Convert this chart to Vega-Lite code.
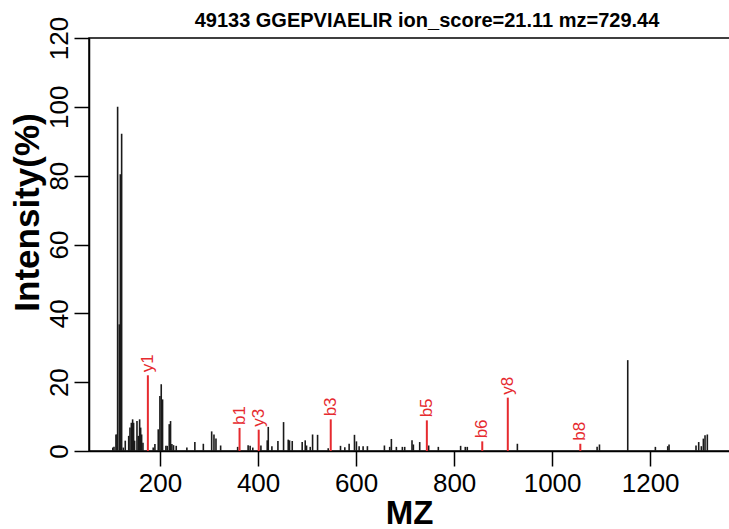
{
  "$schema": "https://vega.github.io/schema/vega-lite/v6.json",
  "autosize": "none",
  "padding": {"left": 89, "top": 38, "right": 0, "bottom": 78},
  "width": 642,
  "height": 413,
  "background": "white",
  "title": {
    "text": "49133 GGEPVIAELIR ion_score=21.11 mz=729.44",
    "font": "Liberation Sans",
    "fontSize": 20,
    "fontWeight": "bold",
    "color": "black",
    "anchor": "middle",
    "frame": "group",
    "dx": 17,
    "offset": -15
  },
  "config": {
    "view": {"stroke": "black", "strokeWidth": 1.5},
    "axis": {
      "labelFont": "Liberation Sans",
      "titleFont": "Liberation Sans",
      "labelColor": "black",
      "titleColor": "black",
      "domainColor": "black",
      "tickColor": "black",
      "domainWidth": 1.5,
      "tickWidth": 1.5,
      "tickSize": 15,
      "grid": false,
      "labelFontSize": 26,
      "titleFontSize": 33,
      "titleFontWeight": "bold"
    }
  },
  "datasets": {
    "peaks": [
      {"mz": 103.5, "intensity": 1.0}, {"mz": 106, "intensity": 1.2}, {"mz": 110, "intensity": 4.8},
      {"mz": 112, "intensity": 4.8}, {"mz": 113.4, "intensity": 100}, {"mz": 116.8, "intensity": 36.8},
      {"mz": 118.9, "intensity": 80.4}, {"mz": 121.6, "intensity": 92.2}, {"mz": 125, "intensity": 1},
      {"mz": 129, "intensity": 3}, {"mz": 136, "intensity": 4.4}, {"mz": 138.6, "intensity": 6.8},
      {"mz": 141.4, "intensity": 8.2}, {"mz": 144, "intensity": 9.2}, {"mz": 146, "intensity": 8.2},
      {"mz": 148, "intensity": 3}, {"mz": 152.9, "intensity": 8.7}, {"mz": 155.6, "intensity": 4.4},
      {"mz": 158.3, "intensity": 9.2}, {"mz": 160.4, "intensity": 6.8}, {"mz": 162.4, "intensity": 4.8},
      {"mz": 165.1, "intensity": 2.4}, {"mz": 186, "intensity": 1}, {"mz": 189.5, "intensity": 2},
      {"mz": 196.3, "intensity": 6.3}, {"mz": 199.7, "intensity": 16}, {"mz": 202.4, "intensity": 19.4},
      {"mz": 205.1, "intensity": 15}, {"mz": 211.9, "intensity": 1.5}, {"mz": 214.6, "intensity": 1.5},
      {"mz": 218.7, "intensity": 7.8}, {"mz": 221.4, "intensity": 8.7}, {"mz": 224.1, "intensity": 2},
      {"mz": 227.5, "intensity": 1.7}, {"mz": 233, "intensity": 1.5}, {"mz": 254.7, "intensity": 1},
      {"mz": 271, "intensity": 2.6}, {"mz": 288.3, "intensity": 2.1}, {"mz": 305.3, "intensity": 5.7},
      {"mz": 310, "intensity": 4.8}, {"mz": 314.1, "intensity": 3.6}, {"mz": 323.6, "intensity": 1.6},
      {"mz": 358.3, "intensity": 1.2}, {"mz": 379.7, "intensity": 1.7}, {"mz": 383.8, "intensity": 1.5},
      {"mz": 389.2, "intensity": 1}, {"mz": 405.8, "intensity": 1.6}, {"mz": 418.7, "intensity": 3.1},
      {"mz": 420.8, "intensity": 7}, {"mz": 428.2, "intensity": 1.4}, {"mz": 440.5, "intensity": 2.9},
      {"mz": 452, "intensity": 8.4}, {"mz": 461.5, "intensity": 3.3}, {"mz": 464.2, "intensity": 3.1},
      {"mz": 469.7, "intensity": 2.9}, {"mz": 490, "intensity": 2.6}, {"mz": 496.2, "intensity": 3.1},
      {"mz": 498.9, "intensity": 1.6}, {"mz": 506.4, "intensity": 1.2}, {"mz": 511.2, "intensity": 4.8},
      {"mz": 521.4, "intensity": 4.7}, {"mz": 543.1, "intensity": 0.8}, {"mz": 568.2, "intensity": 1.5},
      {"mz": 577, "intensity": 1.1}, {"mz": 585.8, "intensity": 2.1}, {"mz": 596.7, "intensity": 4.7},
      {"mz": 600.7, "intensity": 2.8}, {"mz": 606.2, "intensity": 1.4}, {"mz": 614.3, "intensity": 1.4},
      {"mz": 623.1, "intensity": 1.4}, {"mz": 657.8, "intensity": 1.6}, {"mz": 668.6, "intensity": 1.2},
      {"mz": 672, "intensity": 3.5}, {"mz": 682.2, "intensity": 1.2}, {"mz": 694.4, "intensity": 1.2},
      {"mz": 699.2, "intensity": 1.2}, {"mz": 714.1, "intensity": 3.1}, {"mz": 716.9, "intensity": 1.9},
      {"mz": 729.8, "intensity": 2.6}, {"mz": 748.1, "intensity": 1.6}, {"mz": 767.8, "intensity": 1.2},
      {"mz": 813.3, "intensity": 1.5}, {"mz": 822.8, "intensity": 1.2}, {"mz": 826.9, "intensity": 1.2},
      {"mz": 929.1, "intensity": 2.1}, {"mz": 1091.8, "intensity": 1.2}, {"mz": 1096.6, "intensity": 1.9},
      {"mz": 1154.3, "intensity": 26.4}, {"mz": 1210.7, "intensity": 1.2}, {"mz": 1235.9, "intensity": 1.4},
      {"mz": 1238.6, "intensity": 1.9}, {"mz": 1293.6, "intensity": 1.6}, {"mz": 1299.1, "intensity": 2.6},
      {"mz": 1304.5, "intensity": 1.4}, {"mz": 1308.6, "intensity": 3.6}, {"mz": 1312, "intensity": 4.6},
      {"mz": 1316.7, "intensity": 4.8}
    ],
    "ions": [
      {"mz": 175.12, "intensity": 22, "label": "y1"},
      {"mz": 362.2, "intensity": 6.7, "label": "b1"},
      {"mz": 401.28, "intensity": 6.2, "label": "y3"},
      {"mz": 548.26, "intensity": 9.2, "label": "b3"},
      {"mz": 744.38, "intensity": 8.9, "label": "b5"},
      {"mz": 857.46, "intensity": 2.8, "label": "b6"},
      {"mz": 909.56, "intensity": 15.5, "label": "y8"},
      {"mz": 1057.54, "intensity": 2.1, "label": "b8"}
    ]
  },
  "layer": [
    {
      "data": {"name": "peaks"},
      "mark": {"type": "rule", "color": "#1a1a1a", "strokeWidth": 1.6},
      "encoding": {
        "x": {
          "field": "mz", "type": "quantitative",
          "scale": {"domain": [55, 1365], "nice": false, "zero": false},
          "axis": {
            "title": "MZ",
            "values": [200, 400, 600, 800, 1000, 1200],
            "format": "d",
            "labelPadding": 4,
            "titleX": 320,
            "titleY": 62,
            "titleBaseline": "middle",
            "titleAlign": "center"
          }
        },
        "y": {
          "field": "intensity", "type": "quantitative",
          "scale": {"domain": [0, 120], "nice": false},
          "axis": {
            "title": "Intensity(%)",
            "values": [0, 20, 40, 60, 80, 100, 120],
            "labelAngle": -90,
            "labelAlign": "center",
            "labelBaseline": "alphabetic",
            "labelPadding": 7,
            "titleAngle": -90,
            "titleFontSize": 35,
            "titleX": -62,
            "titleY": 174,
            "titleAlign": "center",
            "titleBaseline": "middle"
          }
        },
        "y2": {"datum": 0}
      }
    },
    {
      "data": {"name": "ions"},
      "mark": {"type": "rule", "color": "#e62a2f", "strokeWidth": 2},
      "encoding": {
        "x": {"field": "mz", "type": "quantitative"},
        "y": {"field": "intensity", "type": "quantitative"},
        "y2": {"datum": 0}
      }
    },
    {
      "data": {"name": "ions"},
      "mark": {"type": "text", "color": "#e62a2f", "font": "Liberation Sans", "fontSize": 17, "angle": -90, "align": "left", "baseline": "middle", "dx": 3},
      "encoding": {
        "x": {"field": "mz", "type": "quantitative"},
        "y": {"field": "intensity", "type": "quantitative"},
        "text": {"field": "label"}
      }
    }
  ]
}
